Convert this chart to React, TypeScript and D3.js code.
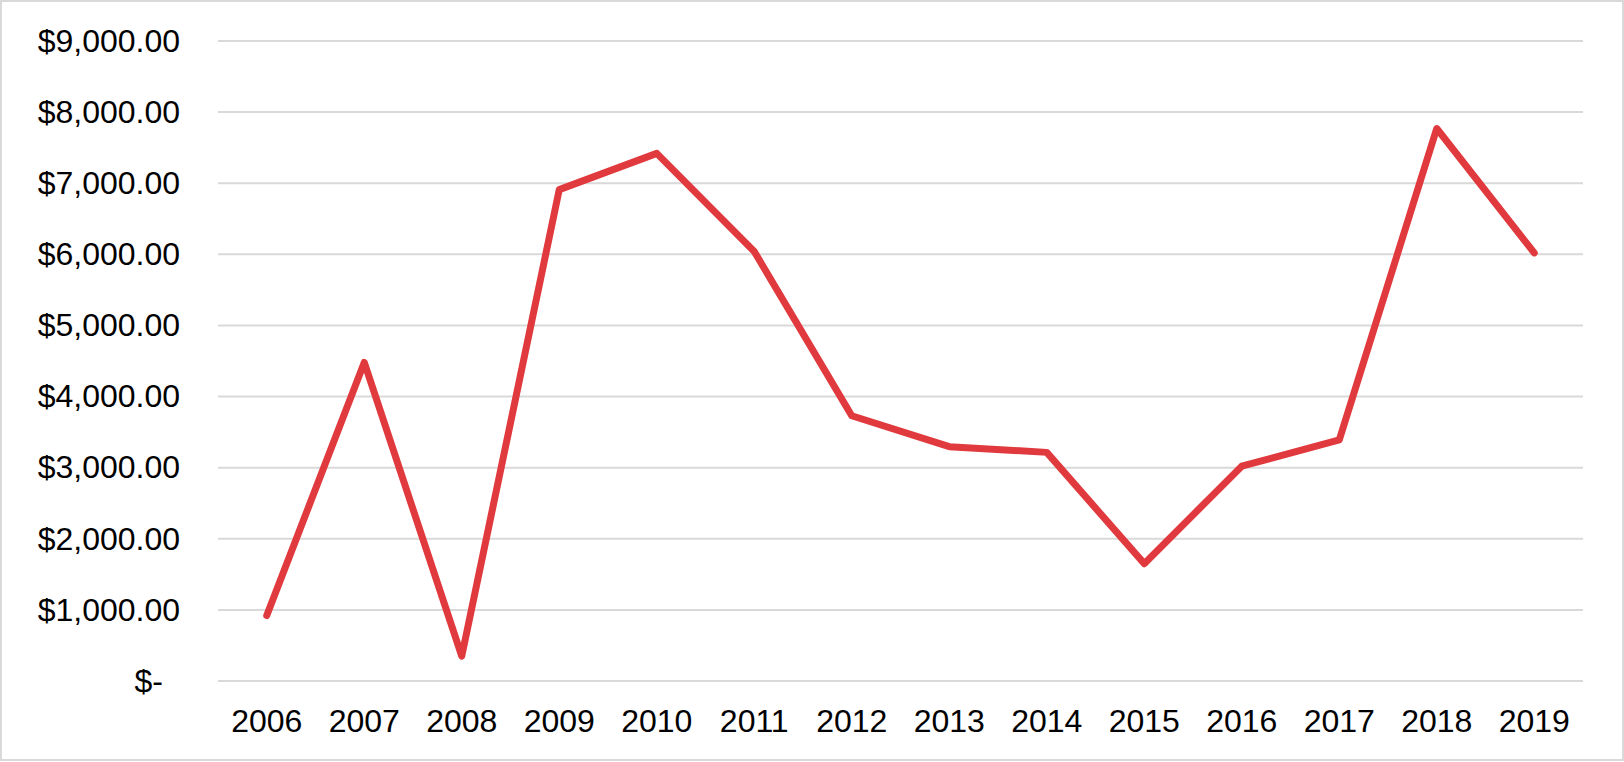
import React, { useRef, useEffect } from 'react';
import * as d3 from 'd3';

const years = ['2006', '2007', '2008', '2009', '2010', '2011', '2012', '2013', '2014', '2015', '2016', '2017', '2018', '2019'];
const amounts = [920, 4480, 350, 6910, 7420, 6040, 3730, 3295, 3215, 1650, 3020, 3390, 7770, 6020];
const yTicks = [0, 1000, 2000, 3000, 4000, 5000, 6000, 7000, 8000, 9000];

const W = 1624, H = 762;
const margin = { top: 41, right: 41, bottom: 81, left: 218 };

const money = (v: number) => (v === 0 ? '$-' : '$' + d3.format(',.2f')(v));

const App = () => {
  const ref = useRef<SVGSVGElement>(null);

  useEffect(() => {
    const svg = d3.select(ref.current);
    svg.selectAll('*').remove();

    const width = W - margin.left - margin.right;
    const height = H - margin.top - margin.bottom;

    // outer frame
    svg.append('rect')
      .attr('x', 1).attr('y', 1)
      .attr('width', W - 2).attr('height', H - 3)
      .attr('fill', '#fff')
      .attr('stroke', '#d9d9d9')
      .attr('stroke-width', 2);

    const g = svg.append('g')
      .attr('transform', 'translate(' + margin.left + ',' + margin.top + ')');

    const x = d3.scaleBand().domain(years).range([0, width]);
    const y = d3.scaleLinear().domain([0, 9000]).range([height, 0]);

    // gridlines
    g.selectAll('.grid')
      .data(yTicks)
      .enter().append('line')
      .attr('x1', 0).attr('x2', width)
      .attr('y1', d => y(d)).attr('y2', d => y(d))
      .attr('stroke', '#d9d9d9')
      .attr('stroke-width', 2);

    // y axis
    const ya = g.append('g')
      .call(d3.axisLeft(y).tickValues(yTicks).tickSize(0).tickPadding(38).tickFormat(d => money(+d)));
    ya.select('.domain').remove();
    ya.selectAll('text')
      .attr('font-family', '"Liberation Sans", Arial, sans-serif')
      .attr('font-size', 32)
      .attr('fill', '#000')
      .attr('dx', d => (+d === 0 ? -17 : 0));

    // x axis
    const xa = g.append('g')
      .attr('transform', 'translate(0,' + height + ')')
      .call(d3.axisBottom(x).tickSize(0));
    xa.select('.domain').remove();
    xa.selectAll('text')
      .attr('font-family', '"Liberation Sans", Arial, sans-serif')
      .attr('font-size', 32)
      .attr('fill', '#000')
      .attr('y', 51)
      .attr('dy', 0);

    const line = d3.line<number>()
      .x((d, i) => (x(years[i]) as number) + x.bandwidth() / 2)
      .y(d => y(d));

    g.append('path')
      .datum(amounts)
      .attr('d', line)
      .attr('fill', 'none')
      .attr('stroke', '#e03a3e')
      .attr('stroke-width', 7)
      .attr('stroke-linejoin', 'round')
      .attr('stroke-linecap', 'round');
  }, []);

  return (
    <div style={{ position: 'absolute', left: 0, top: 0 }}>
      <svg ref={ref} width={W} height={H} style={{ display: 'block' }} />
    </div>
  );
};

export default App;
